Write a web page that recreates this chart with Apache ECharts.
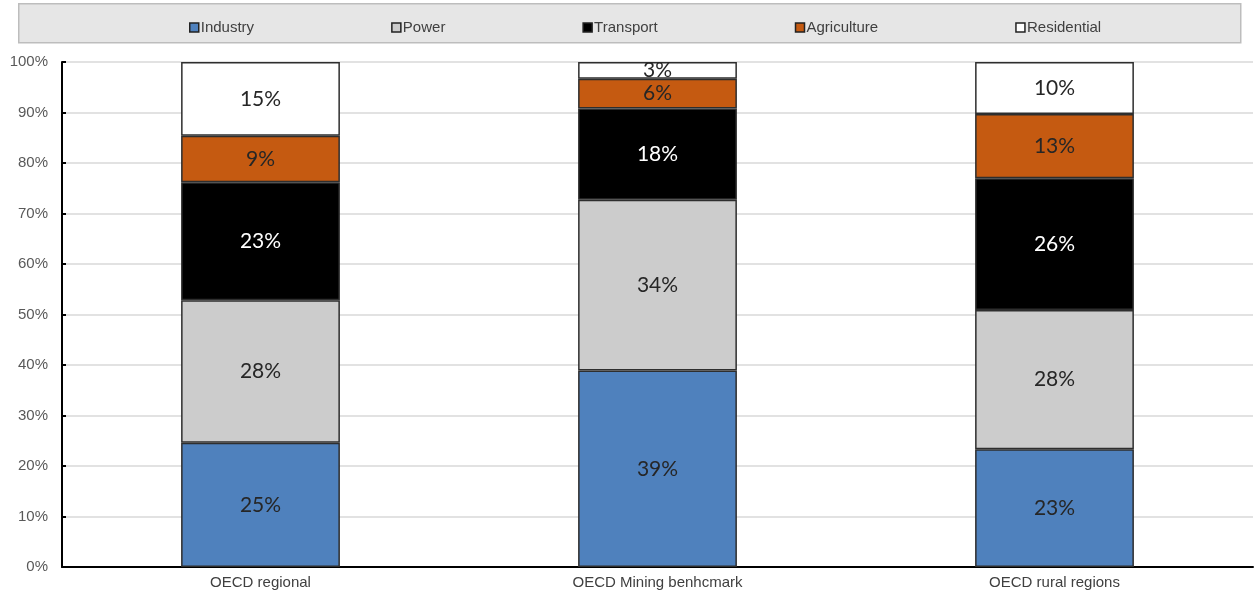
<!DOCTYPE html>
<html>
<head>
<meta charset="utf-8">
<script src="https://cdn.jsdelivr.net/npm/echarts@6/dist/echarts.min.js"></script>
<style>
  html, body { margin: 0; padding: 0; background: #fff; }
  #chart { width: 1255px; height: 594px; }
</style>
</head>
<body>
<div id="chart"></div>
<script>
var categories = ['OECD regional', 'OECD Mining benhcmark', 'OECD rural regions'];
var industry = [24.6, 38.9, 23.3];
var power = [28.2, 33.8, 27.6];
var transport = [23.4, 18.1, 26.1];
var agriculture = [9.2, 5.9, 12.7];
var residential = [14.6, 3.3, 10.3];
var yTicks = [0, 10, 20, 30, 40, 50, 60, 70, 80, 90, 100];

var narrow = '"Liberation Sans Narrow", "Arial Narrow", "Liberation Sans", Arial, sans-serif';
var labelFont = 'Lato, "Open Sans", sans-serif';

function makeSeries(name, values, color, textColor) {
    return {
        name: name,
        type: 'bar',
        stack: 'total',
        barWidth: '40%',
        data: values,
        itemStyle: { color: color, borderColor: '#2e2e2e', borderWidth: 1.5 },
        label: {
            show: true,
            position: 'inside',
            fontFamily: labelFont,
            fontSize: 21,
            color: textColor,
            formatter: function (p) { return Math.round(p.value) + '%'; }
        }
    };
}

var chart = echarts.init(document.getElementById('chart'));
chart.setOption({
    animation: false,
    graphic: [{
        type: 'rect',
        left: 18, top: 3,
        shape: { width: 1222, height: 39 },
        style: { fill: '#e6e6e6', stroke: '#bdbdbd', lineWidth: 1.5 },
        z: -1
    }],
    legend: {
        left: 184,
        top: 15,
        itemGap: 137,
        itemWidth: 9,
        itemHeight: 9,
        icon: 'rect',
        textStyle: { fontFamily: narrow, fontSize: 15, color: '#404040', padding: [0, 0, 0, -3] },
        itemStyle: { borderColor: '#222', borderWidth: 1.5 }
    },
    grid: { left: 62, right: 2, top: 62, bottom: 27 },
    xAxis: {
        type: 'category',
        data: categories,
        axisLine: { lineStyle: { color: '#000', width: 2 } },
        axisTick: { show: false },
        axisLabel: { fontFamily: narrow, fontSize: 15, color: '#404040', margin: 8 }
    },
    yAxis: {
        type: 'value',
        min: yTicks[0],
        max: yTicks[yTicks.length - 1],
        interval: 10,
        axisLine: { show: true, lineStyle: { color: '#000', width: 2 } },
        axisTick: { show: true, inside: true, length: 4, lineStyle: { color: '#000', width: 2 } },
        axisLabel: { fontFamily: narrow, fontSize: 15, color: '#595959', margin: 14, formatter: '{value}%' },
        splitLine: { lineStyle: { color: '#d9d9d9', width: 1.5 } }
    },
    series: [
        makeSeries('Industry', industry, '#4f81bd', '#262626'),
        makeSeries('Power', power, '#cccccc', '#262626'),
        makeSeries('Transport', transport, '#000000', '#ffffff'),
        makeSeries('Agriculture', agriculture, '#c55a11', '#262626'),
        makeSeries('Residential', residential, '#ffffff', '#262626')
    ]
});
</script>
</body>
</html>
